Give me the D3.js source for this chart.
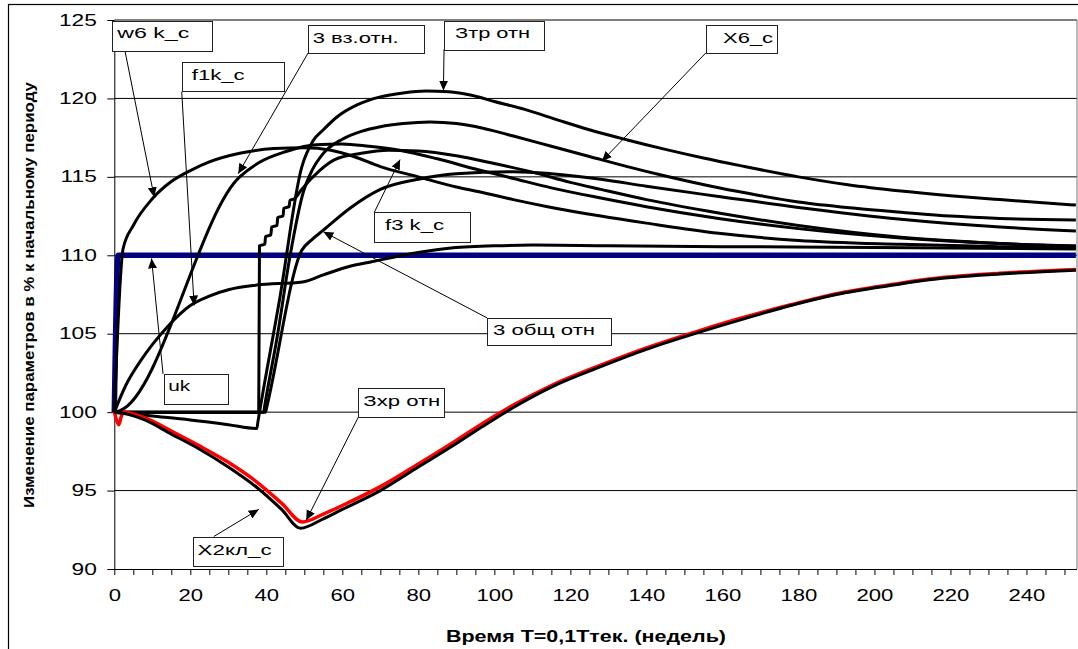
<!DOCTYPE html>
<html>
<head>
<meta charset="utf-8">
<script src="https://cdn.jsdelivr.net/npm/d3@7"></script>
<style>
  body { margin: 0; background: #fff; }
  svg { display: block; font-family: Arial, "Liberation Sans", sans-serif; }
</style>
</head>
<body>
<svg id="chart" width="1078" height="649"></svg>
<script>
// ticks
var xTicks = d3.range(0, 251, 5);
var yTicks = [90, 95, 100, 105, 110, 115, 120, 125];

// series: [week, % of initial period]
var ukSeries = [[0, 100], [1, 110], [253, 110]];
var w6Series = [[0, 100], [2.3, 110.4], [5, 111.9], [10, 113.6], [15, 114.7], [20, 115.4], [25, 115.95], [33, 116.5],
  [42, 116.8], [50, 116.85], [57, 116.7], [63, 116.3], [70, 115.65], [80, 115.0], [90, 114.35], [96, 114.05],
  [105, 113.55], [114, 113.1], [128, 112.5], [140, 112.05], [159, 111.4], [180, 110.95], [207, 110.7], [233, 110.55], [253, 110.45]];
var f1Series = [[0, 100], [3, 101.7], [7, 103.3], [10, 104.3], [14, 105.45], [20, 106.8], [25, 107.4], [30, 107.8],
  [37.5, 108.1], [49.5, 108.3], [55, 108.75], [62, 109.3], [68, 109.6], [78, 110.1], [88, 110.45], [100, 110.6],
  [110, 110.65], [130, 110.6], [160, 110.55], [200, 110.5], [253, 110.4]];
var vzSeries = [[0, 100], [1.5, 100.1], [33, 115.0], [38, 115.9], [45, 116.6], [53, 117.05], [60, 117.1], [67, 116.95],
  [75, 116.7], [85, 116.15], [95, 115.5], [105, 114.9], [115, 114.3], [128, 113.65], [140, 113.1], [159, 112.35],
  [180, 111.7], [207, 111.1], [233, 110.75], [253, 110.6]];
var trSeries = [[0, 100], [10, 99.75], [20, 99.5], [30, 99.2], [37.5, 98.95], [37.8, 99.4], [43.5, 107.2], [49.3, 115.6],
  [52.3, 117.3], [55, 118.0], [58.5, 118.8], [64, 119.6], [70, 120.1], [76, 120.35], [82, 120.47], [88, 120.42],
  [94, 120.2], [100, 119.8], [108, 119.3], [117, 118.6], [125, 118.0], [135, 117.35], [145, 116.75], [155, 116.2],
  [165, 115.7], [180, 115.0], [193, 114.5], [207, 114.1], [220, 113.8], [233, 113.55], [253, 113.2]];
var x6Series = [[0, 100], [39.3, 100], [39.5, 100.3], [43, 105], [46.2, 109.9], [49.7, 114], [52, 115.4], [55, 116.5],
  [60, 117.4], [65, 117.9], [70, 118.2], [76, 118.4], [83, 118.5], [90, 118.4], [97, 118.1], [105, 117.6], [115, 116.95],
  [125, 116.3], [135, 115.65], [145, 115.05], [159, 114.3], [170, 113.8], [180, 113.4], [195, 113.0], [207, 112.75],
  [220, 112.5], [233, 112.35], [253, 112.25]];
var f3Series = [[0, 100], [38, 100], [38.2, 110.6], [39.6, 110.7], [39.8, 111.2], [41.2, 111.3], [41.4, 111.8],
  [42.8, 111.9], [43, 112.4], [44.4, 112.5], [44.6, 113], [46, 113.1], [46.2, 113.5], [47.4, 113.6], [49.3, 114.2],
  [54, 115.4], [58, 116.1], [65, 116.5], [72, 116.7], [80, 116.65], [90, 116.35], [100, 115.85], [110, 115.3],
  [120, 114.65], [128, 114.2], [140, 113.55], [159, 112.7], [180, 111.9], [207, 111.15], [233, 110.75], [253, 110.55]];
var obSeries = [[0, 100], [39.8, 100], [40.1, 100.3], [49.3, 110.3], [52, 111.0], [55, 111.6], [62, 113.0], [70, 114.2],
  [80, 114.85], [90, 115.2], [105, 115.33], [115, 115.2], [128, 114.85], [140, 114.4], [159, 113.75], [180, 113.05],
  [207, 112.3], [233, 111.8], [253, 111.55]];
var xrSeries = [[0, 100], [0.6, 99.5], [1.2, 99.2], [1.8, 99.7], [2.5, 100], [8, 99.65], [15, 98.8], [22, 97.9],
  [30, 96.8], [38, 95.45], [44, 94.2], [49.5, 93.0], [55, 93.5], [60, 94.05], [70, 95.25], [80, 96.7], [90, 98.2],
  [97, 99.3], [105, 100.45], [115, 101.7], [128, 103.0], [140, 104.1], [154, 105.2], [165, 106.0], [178, 106.85],
  [190, 107.55], [205, 108.15], [215, 108.5], [233, 108.85], [253, 109.1]];
var x2Series = [[0, 100], [3, 99.9], [8, 99.5], [15, 98.6], [22, 97.7], [30, 96.5], [38, 95.1], [44, 93.8], [49, 92.6],
  [55, 93.2], [60, 93.8], [70, 95.0], [80, 96.5], [90, 98.0], [97, 99.1], [105, 100.3], [115, 101.6], [128, 102.9],
  [140, 104.0], [154, 105.1], [165, 105.9], [178, 106.8], [190, 107.5], [205, 108.1], [215, 108.45], [233, 108.8], [253, 109.05]];

// callouts: label and the point its arrow points to
var calloutText = ['w6 k_c', 'f1k_c', '3 вз.отн.', 'Зтр отн', 'X6_c', 'f3 k_c', '3 общ отн', 'uk', 'Зхр отн', 'X2кл_с'];
var calloutTarget = [[10.5, 113.7], [21.0, 106.8], [32.6, 115.2], [86.6, 120.5], [128.3, 116.0],
  [75.2, 116.1], [55.0, 111.5], [9.8, 109.8], [50.5, 93.1], [38.0, 93.8]];

(function() {
  function translate(a, b) {
    return 'translate(' + a + ',' + b + ')';
  }

  var xMax = 253.3;
  var x = d3.scaleLinear().domain([0, xMax]).range([114.3, 1077]),
      y = d3.scaleLinear().domain([90, 125]).range([569, 20]);

  var svg = d3.select('#chart');

  // box top-left (data units), box size (px), text inset and width (px), arrow start (data units)
  var boxLayout = [
    [-0.53, 124.94, 100, 30, 5, 72, 2.82, 123.02],
    [17.74, 122.30, 102, 29, 10, 53, 17.74, 120.43],
    [51.05, 124.68, 116, 28, 4.4, 86, 51.05, 122.92],
    [86.76, 124.96, 100, 29, 11, 75, 86.76, 123.13],
    [155.71, 124.68, 71, 28, 17, 50, 155.71, 122.92],
    [68.42, 112.74, 96, 30, 10.7, 59, 68.42, 112.74],
    [98.08, 106.01, 124, 27, 6, 102, 98.08, 106.01],
    [13.08, 102.44, 64, 30, 4.3, 22, 12.82, 102.44],
    [64.21, 101.53, 86, 29, 5, 77, 64.21, 99.68],
    [20.71, 92.03, 90, 29, 4.6, 74, 26.18, 92.07]
  ];

  svg.append('defs').append('marker')
      .attr('id', 'arrow')
      .attr('viewBox', '0 -5 10 10')
      .attr('refX', 10)
      .attr('refY', 0)
      .attr('markerUnits', 'userSpaceOnUse')
      .attr('markerWidth', 10)
      .attr('markerHeight', 10)
      .attr('orient', 'auto')
    .append('path')
      .attr('d', 'M0,-4.5L10,0L0,4.5Z')
      .attr('fill', '#000');

  // outer frame
  svg.append('rect')
    .attr('x', 8.5).attr('y', 4.5)
    .attr('width', 1100).attr('height', 700)
    .attr('fill', '#fff')
    .attr('stroke', '#000')
    .attr('stroke-width', 1.2);

  // grid
  svg.append('g')
    .selectAll('line')
    .data(yTicks.filter(function(d) { return d > 90; }))
    .join('line')
      .attr('x1', x(0)).attr('x2', x(xMax))
      .attr('y1', function(d) { return y(d); })
      .attr('y2', function(d) { return y(d); })
      .attr('stroke', '#000')
      .attr('stroke-width', 1);

  svg.append('line')
    .attr('x1', x(xMax)).attr('x2', x(xMax))
    .attr('y1', y(125)).attr('y2', y(90))
    .attr('stroke', '#777');

  // axes
  var yAxis = d3.axisLeft(y)
    .tickValues(yTicks)
    .tickSize(7)
    .tickSizeOuter(0)
    .tickFormat(d3.format('d'));

  var xAxis = d3.axisBottom(x)
    .tickValues(xTicks)
    .tickSize(6)
    .tickSizeOuter(0)
    .tickFormat(function(d) { return d % 20 === 0 ? d : ''; });

  var gy = svg.append('g')
    .attr('class', 'y axis')
    .attr('transform', translate(x(0), 0))
    .call(yAxis);
  gy.select('.domain').attr('stroke', '#000');
  gy.selectAll('text')
    .attr('x', 0)
    .attr('transform', 'translate(-17.5,0) scale(1.42,1)')
    .attr('font-size', 16)
    .attr('font-family', 'Arial, "Liberation Sans", sans-serif')
    .attr('fill', '#000');

  var gx = svg.append('g')
    .attr('class', 'x axis')
    .attr('transform', translate(0, y(90)))
    .call(xAxis);
  gx.select('.domain').attr('stroke', '#000').attr('d', 'M' + x(0) + ',0.5H' + x(xMax));
  gx.selectAll('text')
    .attr('y', 21)
    .attr('transform', 'scale(1.38,1)')
    .attr('font-size', 16)
    .attr('font-family', 'Arial, "Liberation Sans", sans-serif')
    .attr('fill', '#000');

  // axis titles
  svg.append('text')
    .attr('transform', translate(34, 295) + ' rotate(-90)')
    .attr('text-anchor', 'middle')
    .attr('font-size', 15)
    .attr('font-weight', 'bold')
    .attr('textLength', 426)
    .attr('lengthAdjust', 'spacingAndGlyphs')
    .text('Изменение параметров в % к начальному периоду');

  svg.append('text')
    .attr('x', 586)
    .attr('y', 641.5)
    .attr('text-anchor', 'middle')
    .attr('font-size', 16)
    .attr('font-weight', 'bold')
    .attr('textLength', 280)
    .attr('lengthAdjust', 'spacingAndGlyphs')
    .text('Время Т=0,1Ттек. (недель)');

  // series
  var line = d3.line()
    .x(function(d) { return x(d[0]); })
    .y(function(d) { return y(d[1]); })
    .curve(d3.curveMonotoneX);

  var series = [
    { data: ukSeries, color: '#000080', width: 5.5 },
    { data: f1Series, color: '#000', width: 3 },
    { data: w6Series, color: '#000', width: 3 },
    { data: vzSeries, color: '#000', width: 3 },
    { data: obSeries, color: '#000', width: 3 },
    { data: f3Series, color: '#000', width: 3 },
    { data: x6Series, color: '#000', width: 3 },
    { data: trSeries, color: '#000', width: 3 },
    { data: xrSeries, color: '#ff0000', width: 3.5 },
    { data: x2Series, color: '#000', width: 3 }
  ];

  svg.append('g')
    .selectAll('path')
    .data(series)
    .join('path')
      .attr('fill', 'none')
      .attr('stroke', function(d) { return d.color; })
      .attr('stroke-width', function(d) { return d.width; })
      .attr('stroke-linejoin', 'round')
      .attr('d', function(d) { return line(d.data); });

  // callouts
  var callouts = calloutText.map(function(t, i) {
    return { text: t, target: calloutTarget[i], box: boxLayout[i] };
  });

  var cg = svg.append('g')
    .selectAll('g')
    .data(callouts)
    .join('g');

  cg.append('line')
    .attr('x1', function(d) { return x(d.box[6]); })
    .attr('y1', function(d) { return y(d.box[7]); })
    .attr('x2', function(d) { return x(d.target[0]); })
    .attr('y2', function(d) { return y(d.target[1]); })
    .attr('stroke', '#000')
    .attr('stroke-width', 1)
    .attr('marker-end', 'url(#arrow)');

  cg.append('rect')
    .attr('x', function(d) { return Math.round(x(d.box[0])) + 0.5; })
    .attr('y', function(d) { return Math.round(y(d.box[1])) + 0.5; })
    .attr('width', function(d) { return d.box[2]; })
    .attr('height', function(d) { return d.box[3]; })
    .attr('fill', '#fff')
    .attr('stroke', '#222')
    .attr('stroke-width', 1);

  cg.append('text')
    .attr('x', function(d) { return x(d.box[0]) + d.box[4]; })
    .attr('y', function(d) { return y(d.box[1]) + 17.5; })
    .attr('font-size', 15)
    .attr('textLength', function(d) { return d.box[5]; })
    .attr('lengthAdjust', 'spacingAndGlyphs')
    .attr('fill', '#000')
    .text(function(d) { return d.text; });
})();
</script>
</body>
</html>
